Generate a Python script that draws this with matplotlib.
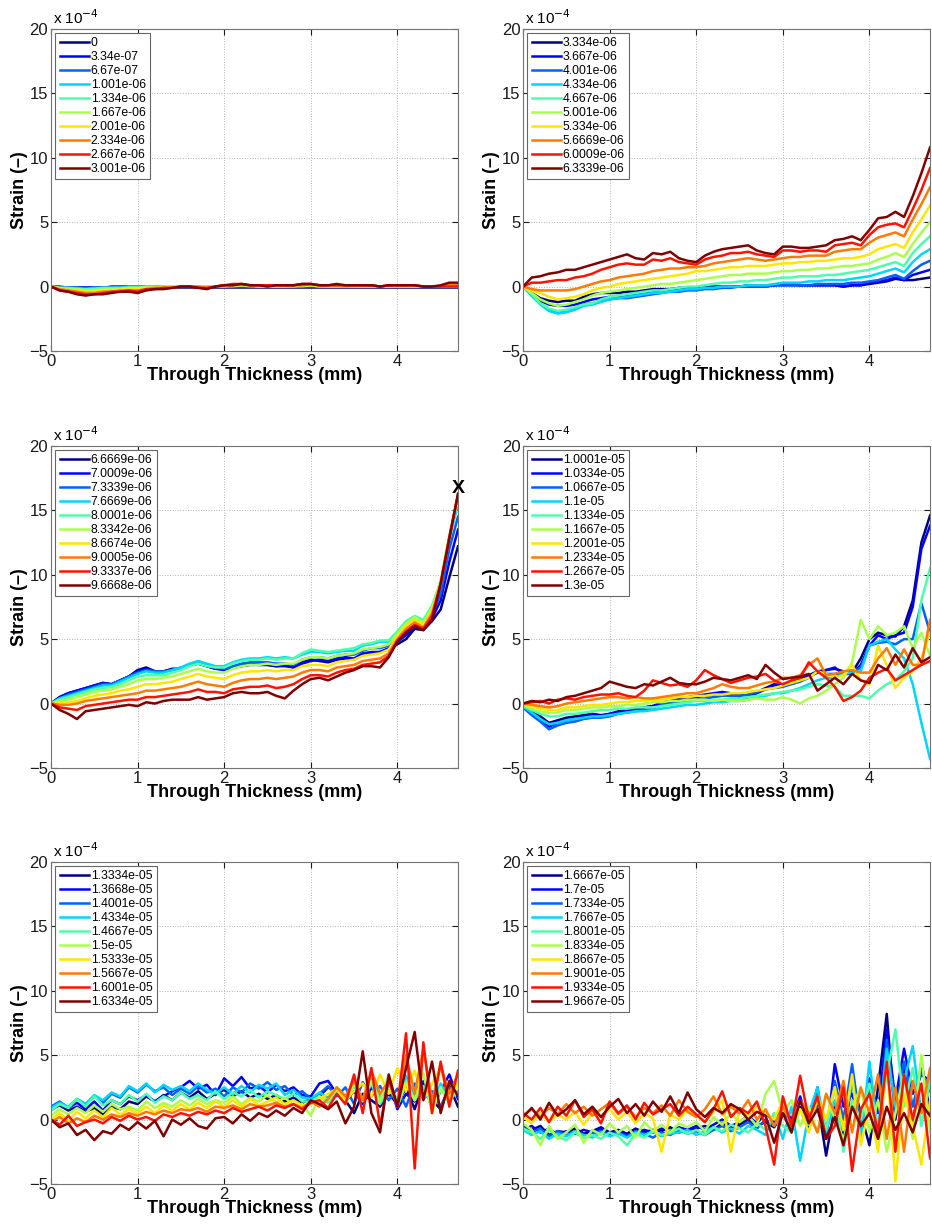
import numpy as np
import matplotlib
matplotlib.use("Agg")
import matplotlib.pyplot as plt

plt.rcParams['font.family'] = ['Liberation Sans', 'DejaVu Sans']

# through-thickness positions (mm), 0.1 mm spacing
thick = np.linspace(0.0, 4.7, 48)

# ---- panel 1 ----
labels_1 = ['0', '3.34e-07', '6.67e-07', '1.001e-06', '1.334e-06',
            '1.667e-06', '2.001e-06', '2.334e-06', '2.667e-06', '3.001e-06']
strain_1 = [
    [0, 0, 0, 0, 0, 0, 0, 0, 0, 0,
     0, 0, 0, 0, 0, 0, 0, 0, 0, 0,
     0, 0, 0, 0, 0, 0, 0, 0, 0, 0,
     0, 0, 0, 0, 0, 0, 0, 0, 0, 0,
     0, 0, 0, 0, 0, 0, 0, 0],
    [0, 0, -0.1, -0.1, -0.1, -0.1, -0.1, 0, 0, 0,
     0, 0, 0, 0, 0, 0, 0, 0, 0, 0,
     0, 0, 0, 0, 0, 0, 0, 0, 0, 0,
     0, 0, 0, 0, 0, 0, 0, 0, 0, 0,
     0, 0, 0, 0, 0, 0, 0, 0],
    [0, -0.1, -0.1, -0.1, -0.1, -0.1, -0.1, -0.1, 0, 0,
     0, 0, 0, 0, 0, 0, 0, 0, 0, 0,
     0, 0, 0, 0, 0, 0, 0, 0, 0, 0,
     0, 0, 0, 0, 0, 0, 0, 0, 0, 0,
     0, 0, 0, 0, 0, 0, 0, 0],
    [0, -0.1, -0.1, -0.1, -0.2, -0.1, -0.1, -0.1, -0.1, 0,
     0, 0, 0, 0, 0, 0, 0, 0, 0, 0,
     0, 0, 0.1, 0, 0, 0, 0, 0, 0, 0,
     0.1, 0, 0, 0, 0, 0, 0, 0, 0, 0,
     0, 0, 0, 0, 0, 0, 0, 0],
    [0, -0.1, -0.1, -0.2, -0.2, -0.2, -0.1, -0.1, -0.1, -0.1,
     -0.1, 0, 0, 0, 0, 0, 0, 0, 0, 0,
     0, 0.1, 0.1, 0.1, 0, 0, 0, 0, 0, 0.1,
     0.1, 0, 0, 0, 0, 0, 0, 0, 0, 0,
     0, 0, 0, 0, 0, 0, 0, 0],
    [0.0, -0.1, -0.2, -0.2, -0.3, -0.3, -0.2, -0.2, -0.2, -0.1,
     -0.1, -0.1, -0.1, 0.0, 0.0, 0.0, 0.0, 0.0, 0.0, 0.0,
     0.1, 0.1, 0.1, 0.1, 0.0, 0.0, 0.0, 0.0, 0.1, 0.1,
     0.1, 0.1, 0.0, 0.0, 0.1, 0.0, 0.0, 0.0, 0.0, 0.0,
     0.0, 0.0, 0.0, 0.0, 0.0, 0.0, 0.0, 0.0],
    [0.0, -0.2, -0.3, -0.3, -0.4, -0.4, -0.3, -0.3, -0.2, -0.2,
     -0.2, -0.1, -0.1, -0.1, 0.0, 0.0, 0.0, 0.0, 0.0, 0.0,
     0.1, 0.1, 0.1, 0.1, 0.1, 0.1, 0.0, 0.1, 0.1, 0.1,
     0.1, 0.1, 0.1, 0.1, 0.1, 0.1, 0.0, 0.1, 0.0, 0.0,
     0.1, 0.1, 0.0, 0.0, 0.0, 0.0, 0.0, 0.1],
    [0.0, -0.2, -0.3, -0.4, -0.5, -0.5, -0.4, -0.4, -0.3, -0.3,
     -0.3, -0.2, -0.1, -0.1, -0.1, 0.0, 0.0, 0.0, -0.1, 0.0,
     0.1, 0.1, 0.2, 0.1, 0.1, 0.1, 0.1, 0.1, 0.1, 0.1,
     0.2, 0.1, 0.1, 0.1, 0.1, 0.1, 0.1, 0.1, 0.0, 0.1,
     0.1, 0.1, 0.1, 0.0, 0.0, 0.0, 0.1, 0.1],
    [0.0, -0.3, -0.4, -0.5, -0.6, -0.6, -0.5, -0.4, -0.4, -0.3,
     -0.4, -0.2, -0.2, -0.1, -0.1, 0.0, 0.0, -0.1, -0.1, 0.0,
     0.1, 0.2, 0.2, 0.1, 0.1, 0.1, 0.1, 0.1, 0.1, 0.2,
     0.2, 0.1, 0.1, 0.1, 0.1, 0.1, 0.1, 0.1, 0.0, 0.1,
     0.1, 0.1, 0.1, 0.0, 0.0, 0.0, 0.0, 0.0],
    [0.0, -0.3, -0.4, -0.6, -0.7, -0.6, -0.6, -0.5, -0.4, -0.4,
     -0.5, -0.3, -0.2, -0.2, -0.1, 0.0, 0.0, -0.1, -0.2, 0.0,
     0.1, 0.1, 0.2, 0.1, 0.1, 0.0, 0.1, 0.1, 0.1, 0.2,
     0.2, 0.1, 0.1, 0.2, 0.1, 0.1, 0.1, 0.1, 0.0, 0.1,
     0.1, 0.1, 0.1, 0.0, 0.0, 0.1, 0.3, 0.3],
]

# ---- panel 2 ----
labels_2 = ['3.334e-06', '3.667e-06', '4.001e-06', '4.334e-06', '4.667e-06',
            '5.001e-06', '5.334e-06', '5.6669e-06', '6.0009e-06', '6.3339e-06']
strain_2 = [
    [0.0, -0.5, -0.9, -1.1, -1.2, -1.1, -1.1, -0.8, -0.6, -0.5,
     -0.5, -0.5, -0.4, -0.4, -0.3, -0.2, -0.2, -0.2, -0.1, -0.1,
     -0.1, 0.0, 0.0, 0.0, 0.0, 0.0, 0.1, 0.1, 0.1, 0.1,
     0.2, 0.2, 0.1, 0.1, 0.1, 0.1, 0.1, 0.0, 0.1, 0.1,
     0.2, 0.3, 0.4, 0.6, 0.5, 0.5, 0.6, 0.7],
    [0.0, -0.6, -1.1, -1.4, -1.5, -1.5, -1.4, -1.2, -1.0, -0.9,
     -0.8, -0.8, -0.7, -0.6, -0.5, -0.4, -0.3, -0.3, -0.2, -0.2,
     -0.2, -0.1, -0.1, 0.0, 0.0, 0.0, 0.0, 0.0, 0.0, 0.1,
     0.1, 0.1, 0.1, 0.1, 0.1, 0.1, 0.1, 0.0, 0.1, 0.1,
     0.3, 0.4, 0.5, 0.7, 0.5, 0.9, 1.1, 1.3],
    [0.0, -0.7, -1.3, -1.8, -2.0, -1.9, -1.7, -1.4, -1.3, -1.1,
     -1.0, -0.9, -0.9, -0.8, -0.7, -0.6, -0.5, -0.4, -0.4, -0.3,
     -0.3, -0.2, -0.2, -0.1, -0.1, 0.0, 0.0, 0.0, 0.0, 0.1,
     0.1, 0.1, 0.1, 0.1, 0.2, 0.2, 0.2, 0.2, 0.3, 0.3,
     0.4, 0.5, 0.7, 0.9, 0.6, 1.2, 1.7, 2.0],
    [0.0, -0.7, -1.4, -1.9, -2.1, -2.0, -1.8, -1.5, -1.4, -1.2,
     -1.0, -0.9, -0.8, -0.7, -0.6, -0.5, -0.5, -0.4, -0.3, -0.2,
     -0.2, -0.1, -0.1, 0.0, 0.0, 0.0, 0.1, 0.1, 0.1, 0.2,
     0.3, 0.3, 0.3, 0.4, 0.4, 0.5, 0.5, 0.5, 0.6, 0.7,
     0.8, 1.0, 1.2, 1.4, 1.1, 1.9, 2.5, 2.9],
    [0.0, -0.6, -1.3, -1.7, -1.9, -1.8, -1.6, -1.4, -1.3, -1.0,
     -0.8, -0.7, -0.6, -0.5, -0.4, -0.3, -0.3, -0.2, -0.1, 0.0,
     0.0, 0.1, 0.2, 0.3, 0.3, 0.4, 0.4, 0.5, 0.5, 0.6,
     0.7, 0.7, 0.8, 0.8, 0.8, 0.9, 0.9, 1.0, 1.1, 1.2,
     1.3, 1.5, 1.7, 1.9, 1.6, 2.6, 3.3, 3.9],
    [0.0, -0.5, -1.0, -1.3, -1.5, -1.4, -1.2, -1.0, -0.7, -0.5,
     -0.4, -0.3, -0.2, -0.1, 0.0, 0.1, 0.2, 0.2, 0.3, 0.4,
     0.5, 0.6, 0.7, 0.8, 0.9, 0.9, 1.0, 1.0, 1.0, 1.1,
     1.2, 1.2, 1.3, 1.3, 1.4, 1.4, 1.5, 1.6, 1.6, 1.7,
     1.8, 2.1, 2.3, 2.6, 2.3, 3.3, 4.2, 5.0],
    [0.0, -0.3, -0.5, -0.8, -1.0, -0.9, -0.8, -0.6, -0.3, -0.1,
     0.0, 0.2, 0.3, 0.4, 0.5, 0.6, 0.7, 0.8, 0.9, 1.0,
     1.2, 1.2, 1.3, 1.4, 1.5, 1.5, 1.6, 1.6, 1.6, 1.7,
     1.8, 1.8, 1.9, 1.9, 2.0, 2.0, 2.1, 2.2, 2.2, 2.3,
     2.5, 2.9, 3.1, 3.3, 3.0, 4.2, 5.2, 6.3],
    [0.0, -0.2, -0.3, -0.3, -0.3, -0.3, -0.2, 0.0, 0.2, 0.4,
     0.5, 0.7, 0.8, 0.9, 1.0, 1.2, 1.3, 1.4, 1.4, 1.5,
     1.5, 1.6, 1.8, 1.9, 2.0, 2.1, 2.2, 2.1, 2.0, 2.1,
     2.2, 2.3, 2.3, 2.4, 2.4, 2.4, 2.7, 2.8, 2.9, 2.9,
     3.4, 3.8, 4.0, 4.2, 3.9, 5.2, 6.4, 7.7],
    [0.0, 0.3, 0.3, 0.4, 0.5, 0.5, 0.7, 0.8, 1.0, 1.3,
     1.5, 1.7, 1.8, 1.7, 1.7, 2.1, 2.0, 2.2, 1.9, 1.8,
     1.7, 2.1, 2.3, 2.4, 2.6, 2.6, 2.7, 2.5, 2.4, 2.3,
     2.8, 2.8, 2.7, 2.8, 2.8, 2.7, 3.2, 3.3, 3.4, 3.2,
     4.0, 4.6, 4.8, 4.9, 4.6, 6.0, 7.5, 9.2],
    [0.0, 0.7, 0.8, 1.0, 1.1, 1.3, 1.3, 1.5, 1.7, 1.9,
     2.1, 2.3, 2.5, 2.2, 2.1, 2.6, 2.5, 2.7, 2.2, 2.0,
     1.9, 2.4, 2.7, 2.9, 3.0, 3.1, 3.2, 2.8, 2.6, 2.5,
     3.1, 3.1, 3.0, 3.0, 3.1, 3.2, 3.6, 3.7, 3.9, 3.6,
     4.4, 5.3, 5.4, 5.8, 5.4, 7.0, 8.8, 10.8],
]

# ---- panel 3 ----
labels_3 = ['6.6669e-06', '7.0009e-06', '7.3339e-06', '7.6669e-06', '8.0001e-06',
            '8.3342e-06', '8.6674e-06', '9.0005e-06', '9.3337e-06', '9.6668e-06']
strain_3 = [
    [0.0, 0.5, 0.8, 1.0, 1.2, 1.4, 1.6, 1.5, 1.8, 2.1,
     2.6, 2.8, 2.5, 2.5, 2.7, 2.7, 3.0, 3.1, 2.9, 2.7,
     2.7, 2.8, 3.0, 3.1, 3.0, 3.0, 2.9, 3.0, 2.8, 3.2,
     3.4, 3.3, 3.2, 3.4, 3.5, 3.4, 3.8, 3.9, 4.0, 4.2,
     4.6, 5.0, 5.8, 5.7, 6.4, 7.3, 9.8, 12.2],
    [0.0, 0.5, 0.8, 1.0, 1.2, 1.4, 1.6, 1.5, 1.8, 2.1,
     2.5, 2.7, 2.5, 2.5, 2.6, 2.7, 3.0, 3.1, 2.9, 2.7,
     2.6, 2.8, 2.9, 3.0, 3.0, 3.0, 2.9, 2.9, 2.8, 3.1,
     3.3, 3.4, 3.3, 3.5, 3.6, 3.5, 3.9, 4.0, 4.0, 4.3,
     4.8, 5.3, 6.0, 5.8, 6.6, 8.0, 11.0, 13.5],
    [0.0, 0.4, 0.7, 0.9, 1.1, 1.3, 1.5, 1.5, 1.8, 2.1,
     2.4, 2.6, 2.5, 2.5, 2.6, 2.8, 3.0, 3.2, 3.0, 2.8,
     2.7, 2.9, 3.1, 3.2, 3.2, 3.2, 3.1, 3.1, 3.0, 3.4,
     3.6, 3.6, 3.5, 3.7, 3.8, 3.8, 4.1, 4.3, 4.3, 4.5,
     5.0, 5.6, 6.2, 6.0, 6.9, 8.5, 12.0, 14.5],
    [0.0, 0.4, 0.6, 0.8, 1.0, 1.2, 1.4, 1.4, 1.7, 2.0,
     2.3, 2.5, 2.4, 2.4, 2.6, 2.8, 3.1, 3.3, 3.1, 2.9,
     2.9, 3.2, 3.4, 3.5, 3.5, 3.6, 3.5, 3.6, 3.5, 3.8,
     4.0, 4.0, 3.9, 4.0, 4.1, 4.1, 4.5, 4.6, 4.8, 4.8,
     5.4, 6.1, 6.6, 6.3, 7.4, 9.2, 12.8, 15.5],
    [0.0, 0.3, 0.5, 0.7, 0.9, 1.1, 1.2, 1.3, 1.5, 1.8,
     2.1, 2.2, 2.2, 2.2, 2.4, 2.6, 2.9, 3.1, 2.9, 2.8,
     2.8, 3.1, 3.3, 3.4, 3.4, 3.5, 3.4, 3.5, 3.5, 3.9,
     4.2, 4.1, 4.0, 4.1, 4.2, 4.3, 4.6, 4.7, 4.9, 4.9,
     5.6, 6.4, 6.8, 6.5, 7.6, 9.5, 13.0, 15.8],
    [0.0, 0.2, 0.3, 0.5, 0.7, 0.9, 1.0, 1.1, 1.3, 1.5,
     1.8, 1.9, 1.9, 2.0, 2.1, 2.3, 2.5, 2.7, 2.5, 2.4,
     2.4, 2.7, 2.9, 3.0, 3.0, 3.1, 3.0, 3.1, 3.1, 3.4,
     3.6, 3.6, 3.5, 3.7, 3.8, 3.9, 4.2, 4.3, 4.4, 4.6,
     5.4, 6.2, 6.7, 6.3, 7.4, 9.5, 13.0, 16.0],
    [0.0, 0.0, 0.1, 0.2, 0.4, 0.6, 0.7, 0.8, 1.0, 1.1,
     1.3, 1.5, 1.5, 1.6, 1.7, 1.9, 2.1, 2.3, 2.1, 2.0,
     1.9, 2.2, 2.4, 2.5, 2.5, 2.6, 2.5, 2.6, 2.6, 2.9,
     3.0, 3.0, 2.9, 3.2, 3.3, 3.4, 3.7, 3.8, 3.9, 4.2,
     5.2, 6.0, 6.5, 6.1, 7.2, 9.4, 13.0, 16.1],
    [0.0, -0.1, -0.1, 0.0, 0.2, 0.3, 0.4, 0.5, 0.6, 0.7,
     0.8, 1.0, 1.0, 1.1, 1.2, 1.3, 1.5, 1.7, 1.5, 1.4,
     1.3, 1.6, 1.8, 1.9, 1.9, 2.0, 1.9, 2.0, 2.1, 2.4,
     2.6, 2.6, 2.5, 2.8, 2.9, 3.0, 3.3, 3.4, 3.5, 3.9,
     5.0, 5.8, 6.3, 5.9, 7.0, 9.3, 12.9, 16.2],
    [0.0, -0.3, -0.4, -0.5, -0.2, -0.1, 0.0, 0.1, 0.2, 0.3,
     0.3, 0.5, 0.5, 0.6, 0.7, 0.8, 0.9, 1.1, 0.9, 0.9,
     0.8, 1.1, 1.2, 1.3, 1.3, 1.4, 1.2, 1.3, 1.5, 1.9,
     2.2, 2.2, 2.1, 2.4, 2.6, 2.7, 3.0, 3.1, 3.2, 3.7,
     4.9, 5.6, 6.1, 5.8, 6.8, 9.3, 12.9, 16.2],
    [0.0, -0.5, -0.8, -1.2, -0.6, -0.5, -0.4, -0.3, -0.2, -0.1,
     -0.2, 0.1, 0.0, 0.2, 0.3, 0.3, 0.3, 0.5, 0.3, 0.4,
     0.5, 0.8, 0.9, 0.8, 0.8, 0.9, 0.6, 0.4, 1.0, 1.5,
     1.9, 2.0, 1.8, 2.1, 2.4, 2.6, 2.9, 2.9, 2.8, 3.6,
     4.8, 5.5, 6.0, 5.7, 6.5, 9.3, 12.8, 16.3],
]

# ---- panel 4 ----
labels_4 = ['1.0001e-05', '1.0334e-05', '1.0667e-05', '1.1e-05', '1.1334e-05',
            '1.1667e-05', '1.2001e-05', '1.2334e-05', '1.2667e-05', '1.3e-05']
strain_4 = [
    [-0.2, -0.6, -1.0, -1.5, -1.3, -1.1, -1.0, -0.9, -0.8, -0.9,
     -0.8, -0.6, -0.5, -0.5, -0.3, -0.2, 0.0, 0.1, 0.3, 0.4,
     0.5, 0.6, 0.7, 0.8, 0.8, 0.7, 0.6, 0.9, 1.2, 1.5,
     1.4, 1.7, 1.9, 2.1, 2.4, 2.6, 2.7, 2.5, 2.4, 3.5,
     5.0, 5.5, 5.3, 5.2, 6.0, 8.0, 12.5, 14.6],
    [-0.3, -0.8, -1.3, -1.8, -1.5, -1.3, -1.2, -1.0, -0.9, -1.0,
     -0.8, -0.7, -0.5, -0.4, -0.3, -0.2, 0.1, 0.2, 0.4, 0.5,
     0.6, 0.7, 0.8, 0.9, 0.8, 0.5, 0.3, 0.8, 1.1, 1.4,
     1.5, 1.6, 2.0, 2.2, 2.5, 2.6, 2.8, 2.3, 2.3, 3.0,
     4.5, 5.3, 5.0, 5.3, 5.5, 7.5, 12.0, 13.8],
    [-0.3, -0.9, -1.4, -2.0, -1.7, -1.5, -1.4, -1.2, -1.1, -1.1,
     -1.0, -0.8, -0.7, -0.6, -0.5, -0.4, -0.1, 0.0, 0.1, 0.2,
     0.3, 0.4, 0.5, 0.6, 0.6, 0.6, 0.7, 0.9, 1.1, 1.2,
     1.3, 1.5, 1.7, 2.0, 2.5, 2.3, 2.3, 2.3, 2.4, 2.8,
     4.5, 4.7, 4.8, 4.6, 5.0, 5.0, 7.8, 5.5],
    [-0.2, -0.7, -1.2, -1.6, -1.5, -1.3, -1.2, -1.1, -1.0, -1.0,
     -0.9, -0.8, -0.7, -0.6, -0.6, -0.5, -0.4, -0.3, -0.2, -0.1,
     -0.1, 0.0, 0.1, 0.1, 0.2, 0.2, 0.3, 0.5, 0.6, 0.8,
     0.8, 1.0, 1.2, 1.5, 1.8, 2.0, 2.0, 2.3, 2.4, 2.5,
     4.5, 4.8, 5.0, 4.2, 3.5, 1.5, -1.5, -4.3],
    [-0.2, -0.5, -0.8, -1.0, -1.0, -0.8, -0.8, -0.7, -0.6, -0.5,
     -0.5, -0.4, -0.4, -0.3, -0.3, -0.3, -0.2, -0.1, 0.0, 0.1,
     0.2, 0.2, 0.3, 0.3, 0.4, 0.4, 0.5, 0.6, 0.7, 0.8,
     0.9, 1.0, 1.1, 1.3, 1.5, 1.4, 1.3, 0.6, 0.6, 0.6,
     0.4, 1.0, 1.5, 1.8, 2.5, 3.5, 8.0, 10.5],
    [-0.1, -0.4, -0.6, -0.7, -0.7, -0.5, -0.5, -0.4, -0.3, -0.3,
     -0.2, -0.2, -0.1, -0.1, 0.0, 0.1, 0.1, 0.2, 0.2, 0.3,
     0.3, 0.3, 0.2, 0.3, 0.2, 0.2, 0.3, 0.4, 0.3, 0.3,
     0.5, 0.3, 0.0, 0.4, 0.6, 1.0, 1.5, 2.0, 3.2, 6.5,
     5.0, 6.0, 5.3, 5.5, 6.0, 4.3, 5.5, 3.7],
    [0.0, -0.2, -0.4, -0.5, -0.5, -0.3, -0.3, -0.2, -0.1, -0.1,
     0.0, 0.1, 0.1, 0.2, 0.2, 0.3, 0.3, 0.4, 0.5, 0.5,
     0.6, 0.6, 0.7, 0.7, 0.8, 0.8, 0.9, 1.0, 1.1, 1.2,
     1.4, 1.6, 1.8, 2.0, 2.5, 2.3, 2.0, 2.2, 3.0, 1.8,
     1.5, 4.5, 3.0, 1.2, 2.0, 2.5, 3.5, 5.5],
    [0.0, -0.1, -0.2, -0.3, -0.2, 0.0, 0.1, 0.2, 0.3, 0.4,
     0.5, 0.5, 0.4, 0.5, 0.4, 0.4, 0.5, 0.6, 0.7, 0.8,
     0.8, 1.0, 1.2, 1.5, 1.3, 1.2, 1.2, 1.4, 1.6, 1.7,
     2.0, 2.0, 2.2, 3.0, 3.5, 2.2, 2.3, 2.5, 2.6, 2.4,
     2.4, 3.5, 4.3, 3.0, 4.2, 3.0, 3.0, 6.5],
    [0.0, 0.1, 0.2, 0.0, 0.3, 0.4, 0.3, 0.5, 0.6, 0.7,
     0.7, 0.8, 0.6, 0.5, 1.0, 1.8, 1.6, 1.4, 1.5, 1.3,
     1.8, 2.6, 2.2, 1.9, 1.6, 1.8, 2.0, 2.1, 2.3, 1.8,
     1.5, 1.8, 2.0, 3.2, 2.5, 2.0, 1.3, 0.2, 0.5, 1.0,
     2.0, 2.4, 2.7, 1.8, 2.2, 2.6, 3.0, 3.3],
    [0.0, 0.2, 0.1, 0.3, 0.2, 0.5, 0.6, 0.8, 1.0, 1.2,
     1.7, 1.5, 1.3, 1.2, 1.5, 1.4, 1.7, 2.0, 1.6, 1.5,
     1.5, 1.7, 2.0, 1.9, 1.8, 2.0, 2.2, 1.9, 3.0, 2.4,
     1.9, 2.0, 2.1, 2.3, 1.0, 1.5, 2.0, 1.5, 2.3, 1.8,
     1.6, 3.0, 2.6, 3.8, 2.8, 4.3, 3.2, 3.6],
]

# ---- panel 5 ----
labels_5 = ['1.3334e-05', '1.3668e-05', '1.4001e-05', '1.4334e-05', '1.4667e-05',
            '1.5e-05', '1.5333e-05', '1.5667e-05', '1.6001e-05', '1.6334e-05']
strain_5 = [
    [0.8, 1.1, 0.7, 1.0, 0.6, 0.9, 0.4, 1.0, 0.8, 1.4,
     1.2, 1.8, 1.4, 1.9, 1.5, 2.1, 1.7, 2.2, 1.6, 2.0,
     2.3, 1.8, 2.2, 1.7, 2.0, 1.6, 1.9, 1.4, 1.7, 1.3,
     1.6, 1.8, 2.5, 2.2, 1.5, 0.5, 2.0, 1.5, 1.0, 2.0,
     1.2, 2.5, 0.8, 2.8, 1.5, 0.8, 2.6, 1.0],
    [0.7, 1.2, 0.9, 1.3, 0.8, 1.4, 0.7, 1.5, 1.2, 1.8,
     1.5, 1.9, 1.4, 1.8, 2.2, 2.5, 3.0, 2.4, 2.7, 1.9,
     3.2, 2.6, 3.3, 2.4, 2.6, 2.1, 2.7, 2.2, 2.5, 1.9,
     1.8, 2.8, 3.0, 2.0, 1.4, 2.2, 1.2, 2.5, 1.5, 3.0,
     0.8, 2.0, 1.4, 3.0, 0.9, 2.2, 3.5, 1.6],
    [1.0, 1.4, 0.9, 1.6, 1.2, 1.8, 1.3, 2.0, 1.7, 2.5,
     2.1, 2.7, 2.2, 2.5, 1.9, 2.4, 2.0, 2.6, 2.1, 2.4,
     1.8, 2.5, 2.1, 2.8, 2.4, 2.9, 2.3, 2.6, 1.9, 2.2,
     1.6, 2.0, 2.6, 1.8, 2.5, 1.2, 2.9, 1.8, 2.6, 1.5,
     2.4, 1.0, 2.8, 1.6, 2.2, 1.0, 2.5, 2.0],
    [0.9, 1.3, 1.0, 1.6, 1.2, 1.9, 1.5, 2.1, 1.8, 2.6,
     2.2, 2.8, 2.1, 2.7, 2.3, 2.6, 2.2, 2.8, 2.3, 2.0,
     2.5, 2.0, 2.6, 2.1, 2.7, 2.4, 2.8, 1.9, 2.3, 1.7,
     1.6, 2.1, 1.7, 2.5, 1.8, 2.8, 1.5, 3.2, 1.7, 2.6,
     1.2, 3.4, 1.8, 2.5, 1.2, 2.8, 1.5, 2.2],
    [0.7, 1.2, 0.9, 1.6, 1.0, 1.8, 1.1, 1.5, 1.2, 1.9,
     1.4, 2.0, 1.3, 1.8, 1.5, 2.1, 1.6, 1.9, 1.5, 2.2,
     1.6, 2.1, 1.8, 2.3, 1.7, 2.2, 1.9, 1.6, 2.0, 1.4,
     1.4, 1.8, 1.3, 2.2, 1.5, 2.6, 1.4, 2.8, 1.2, 2.4,
     1.6, 3.0, 1.5, 2.6, 1.0, 2.2, 1.8, 2.0],
    [0.3, 0.8, 0.4, 0.9, 0.5, 1.1, 0.6, 1.2, 0.8, 1.0,
     0.7, 1.4, 0.9, 1.3, 1.0, 1.5, 1.1, 1.6, 1.2, 1.5,
     1.3, 1.8, 1.2, 1.7, 1.4, 1.9, 1.3, 1.7, 1.1, 1.2,
     0.3, 1.8, 1.5, 2.4, 1.2, 2.8, 1.6, 3.0, 1.4, 3.5,
     1.0, 2.8, 1.5, 3.6, 0.5, 2.5, 1.2, 2.8],
    [0.0, 0.5, -0.1, 0.6, 0.1, 0.7, 0.2, 0.9, 0.4, 0.8,
     0.5, 1.0, 0.5, 1.1, 0.7, 1.2, 0.8, 1.3, 0.9, 1.4,
     1.0, 1.5, 1.0, 1.6, 1.1, 1.4, 1.7, 1.2, 1.5, 1.1,
     1.2, 1.6, 2.0, 2.4, 1.5, 2.2, 2.8, 1.8, 3.5, 2.0,
     4.0, 2.2, 3.8, 1.6, 2.8, 4.0, 1.5, 3.0],
    [-0.2, 0.2, -0.3, 0.1, -0.2, 0.3, 0.0, 0.4, 0.2, 0.5,
     0.3, 0.6, 0.4, 0.7, 0.5, 0.8, 0.7, 0.9, 0.6, 1.0,
     0.9, 1.1, 0.8, 1.2, 1.0, 1.1, 1.3, 1.0, 1.2, 0.9,
     1.4, 1.0, 1.6, 2.5, 1.8, 3.0, 1.5, 3.8, 2.0, 3.0,
     1.0, 5.0, 2.0, 5.5, 1.5, 4.2, 2.0, 3.5],
    [0.0, -0.4, 0.3, -0.5, -0.2, 0.0, -0.3, 0.2, -0.1, 0.3,
     0.0, 0.2, -0.1, 0.4, 0.2, 0.5, 0.3, 0.6, 0.4, 0.7,
     0.5, 0.9, 0.6, 0.8, 1.0, 0.7, 1.1, 0.9, 1.2, 0.8,
     1.3, 1.5, 0.9, 2.0, 1.2, 3.5, 0.5, 4.0, -0.5, 3.2,
     1.0, 6.7, -3.8, 6.0, 0.5, 4.5, 1.0, 3.8],
    [0.0, -0.6, -0.3, -1.2, -0.8, -1.6, -0.9, -1.1, -0.4, -0.8,
     -0.2, -0.7, -0.1, -1.3, 0.0, -0.4, 0.1, -0.5, -0.7, 0.1,
     0.2, -0.3, 0.4, -0.1, 0.5, 0.2, 0.7, 0.3, 0.9, 0.5,
     1.5, 1.2, 0.8, 1.4, -0.3, 1.0, 5.3, 0.5, -1.0, 3.5,
     1.0, 4.0, 6.8, 1.5, 4.5, 0.5, 3.0, 1.8],
]

# ---- panel 6 ----
labels_6 = ['1.6667e-05', '1.7e-05', '1.7334e-05', '1.7667e-05', '1.8001e-05',
            '1.8334e-05', '1.8667e-05', '1.9001e-05', '1.9334e-05', '1.9667e-05']
strain_6 = [
    [-0.5, -0.8, -0.5, -1.2, -0.9, -1.0, -0.7, -1.1, -0.9, -0.6,
     -1.0, -0.8, -1.1, -0.7, -1.0, -0.8, -0.9, -0.6, -1.0, -0.8,
     -0.7, -0.5, -0.8, -0.3, -0.6, -0.4, 0.0, -0.5, -0.2, -0.6,
     0.5, -0.5, 1.0, -0.8, 1.5, -2.8, 1.0, -1.5, 3.0, 0.5,
     -2.0, 2.5, 8.2, 0.0, 4.0, -0.5, 4.5, 0.5],
    [-0.8, -0.5, -1.0, -0.7, -1.2, -0.9, -1.1, -0.8, -1.0, -0.7,
     -1.1, -0.9, -1.2, -1.0, -0.8, -1.0, -0.7, -0.9, -0.6, -0.8,
     -0.5, -0.8, -0.4, 0.0, -0.5, -0.2, 0.3, -0.3, 0.5, -0.2,
     1.0, 0.0, 1.8, -0.5, 2.5, -1.5, 4.3, 1.0, 2.0, -0.8,
     3.2, 0.5, 7.0, 1.5, 5.5, 2.0, 3.5, 3.0],
    [-0.6, -1.0, -0.7, -1.3, -0.9, -1.2, -1.0, -1.4, -1.1, -0.9,
     -1.2, -1.0, -1.3, -0.9, -1.1, -1.4, -1.0, -1.2, -0.8, -1.1,
     -0.9, -1.2, -0.8, -0.5, -0.9, -0.6, -0.2, -0.7, 0.0, -0.5,
     0.8, -1.0, 1.5, 0.2, 2.0, -1.0, 3.0, 0.0, 4.3, -0.5,
     2.5, -1.5, 6.2, 0.5, 4.5, 1.0, 3.8, 2.2],
    [-0.8, -1.2, -0.9, -1.5, -1.1, -1.3, -0.9, -1.2, -1.4, -1.0,
     -1.3, -1.1, -1.4, -1.0, -1.2, -0.9, -1.3, -1.1, -1.0, -0.8,
     -1.2, -0.9, -0.6, -1.0, -0.7, -1.1, -0.5, -0.8, -1.2, 0.5,
     -1.5, 1.0, -3.2, 0.5, 2.5, -1.0, 1.5, -0.8, 3.0, -1.5,
     4.5, -1.0, 5.5, 1.0, 3.0, 5.7, 0.5, 3.5],
    [-0.7, -1.0, -1.5, -0.8, -1.3, -1.6, -1.0, -1.4, -1.2, -1.5,
     -1.0, -1.3, -2.0, -1.1, -1.4, -0.9, -1.2, -1.0, -0.7, -1.1,
     -0.8, -1.2, -0.6, -0.9, -0.4, -0.7, -1.0, -0.3, -0.8, 0.5,
     -0.5, -1.0, 0.8, -0.4, 1.5, -0.8, 2.5, -2.5, 1.5, 0.0,
     2.8, -0.8, 3.5, 7.0, 1.0, 4.0, -0.5, 3.0],
    [-0.3, -0.8, -2.0, -0.5, -1.5, -1.0, -0.4, -1.8, -0.8, -1.2,
     -0.3, -1.0, -0.5, -1.4, -0.2, -0.9, -0.4, -1.0, -0.3, -0.6,
     -0.2, -0.9, 0.2, -0.4, 0.5, -0.2, 0.3, -0.5, 2.0, 3.0,
     0.5, 1.5, -0.5, 1.0, -1.0, 2.0, 0.0, -1.5, 1.0, 2.5,
     -1.0, 1.5, -2.5, 0.5, 3.5, -1.5, 5.0, -1.0],
    [0.2, -0.3, 0.5, -0.2, 0.4, 0.0, 0.6, -0.4, 0.5, 0.2,
     0.8, 0.0, 0.6, -0.3, 0.5, 0.1, -2.5, 0.4, 0.0, 0.8,
     0.3, -0.2, 0.6, 1.5, -2.5, 0.8, 0.2, 1.0, 0.5, 0.0,
     1.5, -0.5, 0.8, -1.0, 1.8, 0.0, 2.5, -0.8, 3.5, -2.0,
     1.0, -2.5, 4.5, -4.8, 2.0, -0.5, -3.5, 1.5],
    [0.3, 0.8, 0.2, 0.9, 0.4, 1.2, 0.5, 1.0, 0.3, 0.8,
     1.3, 0.4, 1.0, 0.2, 0.9, 0.5, 1.1, 0.3, 1.5, 0.6,
     0.2, 0.8, 1.8, 0.4, 1.0, 0.5, 1.5, 0.0, 0.8, -0.5,
     1.0, -0.3, 1.5, 0.5, -1.0, 2.0, 0.5, 3.0, -1.0, 2.5,
     0.5, 3.5, -1.5, 2.5, -2.5, 3.0, 0.5, 4.0],
    [0.5, 0.0, 0.9, -0.2, 1.0, 0.3, 1.5, 0.2, 0.8, -0.3,
     1.4, 0.5, 1.1, 0.0, 1.3, 0.4, 0.8, 1.2, 0.3, 1.0,
     0.4, -0.2, 0.8, 2.2, 0.2, 0.9, 0.5, 1.4, -0.5, -3.5,
     1.8, -0.5, 3.4, 0.0, 1.8, -1.5, -0.5, 2.5, -4.0, 0.8,
     2.0, -1.0, 4.5, -2.5, 3.5, 0.0, 2.8, -3.0],
    [0.2, 0.9, 0.0, 1.3, 0.3, 0.8, 1.5, 0.4, 1.0, 0.2,
     1.0, 1.6, 0.5, 1.2, 0.3, 1.4, 0.6, 1.8, 0.5, 2.1,
     0.8, 0.2, 0.9, 0.5, 1.2, 0.8, 0.0, 0.6, 0.3, -1.8,
     0.5, -1.0, 1.5, -0.3, 0.8, -1.5, 0.2, -2.0, 1.0, -0.5,
     0.5, -1.5, 1.0, -0.8, 0.5, -1.0, 1.2, 0.3],
]

panels = [(strain_1, labels_1), (strain_2, labels_2), (strain_3, labels_3),
          (strain_4, labels_4), (strain_5, labels_5), (strain_6, labels_6)]

colors = plt.cm.jet(np.linspace(0, 1, 10))

lefts = [0.0547, 0.5612]
bottoms = [0.7135, 0.3731, 0.0335]
w, h = 0.4367, 0.2629

fig = plt.figure(figsize=(9.32, 12.25), dpi=100)

for k, (series, labels) in enumerate(panels):
    ax = fig.add_axes([lefts[k % 2], bottoms[k // 2], w, h])
    for i, vals in enumerate(series):
        ax.plot(thick, vals, color=colors[i], lw=1.8, label=labels[i])

    ax.set_xlim(0, 4.7)
    ax.set_ylim(-5, 20)
    ax.set_xticks([0, 1, 2, 3, 4])
    ax.set_yticks([-5, 0, 5, 10, 15, 20])
    ax.tick_params(direction='in', top=True, right=True, length=4,
                   labelsize=12, colors='0.1', pad=2)
    for sp in ax.spines.values():
        sp.set_color('0.45')
    ax.grid(True, linestyle=':', color='0.7', lw=0.7)
    ax.set_xlabel('Through Thickness (mm)', fontsize=13, fontweight='bold',
                  labelpad=-1)
    ax.set_ylabel('Strain (\u2013)', fontsize=13, fontweight='bold', labelpad=1)
    ax.text(0.005, 1.005, r'x 10$^{-4}$', transform=ax.transAxes,
            fontsize=11, ha='left', va='bottom')

    leg = ax.legend(loc='upper left', fontsize=8.8, handlelength=2.4,
                    handletextpad=0.15, labelspacing=0.16, borderpad=0.35,
                    borderaxespad=0.35, fancybox=False, framealpha=1)
    leg.get_frame().set_edgecolor('0.4')
    leg.get_frame().set_linewidth(0.8)

    if k == 2:
        ax.text(4.7, 16.7, 'X', fontsize=14, fontweight='bold',
                ha='center', va='center')

fig.savefig('out.png', dpi=100)
